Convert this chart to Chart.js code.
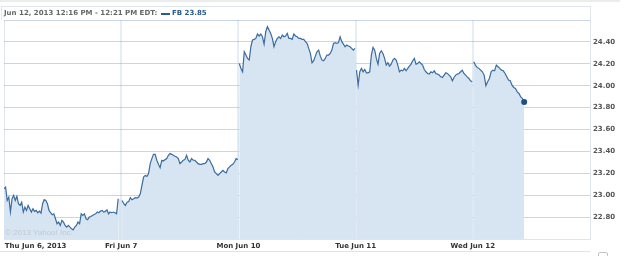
<!DOCTYPE html>
<html>
<head>
<meta charset="utf-8">
<script src="https://cdn.jsdelivr.net/npm/chart.js@4/dist/chart.umd.min.js"></script>
<style>
  body { margin: 0; background: #fff; }
  #wrap { position: relative; width: 625px; height: 256px; overflow: hidden; font-family: "DejaVu Sans", sans-serif; }
  #chart { position: absolute; left: 0; top: 0; }
  .topband { position: absolute; left: 0; top: 0; width: 620px; height: 2px; background: #ececec; }
  .header { position: absolute; left: 1px; top: 6px; width: 588px; height: 13px; border: 1px solid #dfe5ea; border-bottom: none; }
  .header span { position: absolute; top: 2px; font-size: 7px; font-weight: bold; white-space: nowrap; }
  .range { left: 2px; color: #666; }
  .swatch { position: absolute; left: 159px; top: 6px; width: 9px; height: 2px; background: #2a5b90; }
  .quote { left: 170px; color: #2a5b90; }
  .copy { position: absolute; left: 5px; top: 228px; font-family: "Liberation Sans", sans-serif; font-size: 8px; color: #c0cad3; }
  .bottomline { position: absolute; left: 0; top: 251px; width: 590px; height: 1px; background: #e2e2e2; }
  .box { position: absolute; left: 598px; top: 252px; width: 8px; height: 6px; border: 1px solid #c4c4c4; border-radius: 2px; }
</style>
</head>
<body>
<div id="wrap">
  <canvas id="chart" width="625" height="256"></canvas>
  <div class="topband"></div>
  <div class="header">
    <span class="range">Jun 12, 2013 12:16 PM - 12:21 PM EDT:</span>
    <div class="swatch"></div>
    <span class="quote">FB 23.85</span>
  </div>
  <div class="copy">© 2013 Yahoo! Inc.</div>
  <div class="bottomline"></div>
  <div class="box"></div>
</div>
<script>
// FB intraday prices, Jun 6 - Jun 12 2013
const thu = [23.059, 23.074, 22.952, 22.983, 22.846, 22.968, 22.998, 22.952, 22.989, 22.922,
  22.907, 22.937, 22.846, 22.891, 22.861, 22.907, 22.876, 22.846, 22.876, 22.852,
  22.861, 22.840, 22.855, 22.837, 22.922, 22.959, 22.952, 22.922, 22.861, 22.840,
  22.821, 22.830, 22.785, 22.739, 22.754, 22.724, 22.769, 22.754, 22.724, 22.709,
  22.724, 22.709, 22.693, 22.684, 22.709, 22.724, 22.754, 22.739, 22.830, 22.815,
  22.830, 22.785, 22.776, 22.800, 22.806, 22.815, 22.824, 22.830, 22.846, 22.840,
  22.855, 22.861, 22.846, 22.852, 22.867, 22.830, 22.846, 22.840, 22.846, 22.840,
  22.830, 22.968]
const fri = [22.952, 22.922, 22.907, 22.937, 22.943, 22.977, 22.958, 22.968, 22.977, 22.974,
  22.983, 23.013, 23.090, 23.166, 23.181, 23.172, 23.197, 23.288, 23.334, 23.373,
  23.373, 23.319, 23.282, 23.251, 23.319, 23.312, 23.325, 23.334, 23.364, 23.380,
  23.373, 23.364, 23.355, 23.349, 23.334, 23.288, 23.303, 23.319, 23.325, 23.364,
  23.319, 23.303, 23.334, 23.319, 23.319, 23.303, 23.288, 23.282, 23.282, 23.288,
  23.288, 23.303, 23.334, 23.319, 23.288, 23.258, 23.212, 23.197, 23.181, 23.197,
  23.212, 23.227, 23.212, 23.203, 23.242, 23.258, 23.273, 23.282, 23.303, 23.334,
  23.325]
const mon = [24.203, 24.158, 24.127, 24.310, 24.280, 24.249, 24.234, 24.356, 24.417, 24.423,
  24.432, 24.472, 24.454, 24.472, 24.447, 24.380, 24.493, 24.539, 24.508, 24.478,
  24.432, 24.356, 24.402, 24.432, 24.447, 24.432, 24.463, 24.447, 24.454, 24.478,
  24.432, 24.432, 24.423, 24.472, 24.454, 24.447, 24.432, 24.432, 24.423, 24.423,
  24.402, 24.386, 24.341, 24.295, 24.209, 24.228, 24.270, 24.310, 24.325, 24.270,
  24.234, 24.228, 24.249, 24.280, 24.280, 24.295, 24.325, 24.386, 24.393, 24.386,
  24.393, 24.447, 24.402, 24.380, 24.356, 24.371, 24.362, 24.356, 24.341, 24.325,
  24.341]
const tue = [24.142, 24.005, 24.127, 24.158, 24.127, 24.148, 24.118, 24.118, 24.127, 24.280,
  24.350, 24.325, 24.249, 24.197, 24.295, 24.319, 24.295, 24.249, 24.188, 24.210,
  24.179, 24.197, 24.234, 24.249, 24.234, 24.188, 24.127, 24.142, 24.136, 24.158,
  24.136, 24.158, 24.179, 24.197, 24.228, 24.249, 24.197, 24.203, 24.218, 24.203,
  24.188, 24.148, 24.127, 24.112, 24.106, 24.127, 24.118, 24.136, 24.112, 24.106,
  24.097, 24.081, 24.075, 24.097, 24.118, 24.112, 24.097, 24.081, 24.045, 24.075,
  24.097, 24.106, 24.112, 24.127, 24.142, 24.112, 24.097, 24.081, 24.066, 24.045,
  24.036]
const wed = [24.219, 24.188, 24.167, 24.158, 24.142, 24.127, 24.097, 24.000, 24.036, 24.066,
  24.127, 24.142, 24.136, 24.188, 24.173, 24.158, 24.142, 24.136, 24.112, 24.081,
  24.051, 24.045, 24.005, 23.984, 23.975, 23.944, 23.929, 23.898, 23.883, 23.852]

const days = [thu, fri, mon, tue, wed]
const dayLabels = ["Thu Jun 6, 2013", "Fri Jun 7", "Mon Jun 10", "Tue Jun 11", "Wed Jun 12"]
// minutes after 9:30 of the first and last sample of each day
const firstMinute = [0, 3, 3, 3, 3]
const lastMinute = [380, 388, 388, 388, 171]
const yLabels = ["22.80", "23.00", "23.20", "23.40", "23.60", "23.80", "24.00", "24.20", "24.40"]

const SESSION = 390
const points = []
days.forEach((vals, d) => {
  const step = (lastMinute[d] - firstMinute[d]) / (vals.length - 1)
  vals.forEach((v, i) => points.push({ x: d * SESSION + firstMinute[d] + i * step, y: v }))
})

// first label sits inside the plot, the others on the day boundaries
const firstLabelAt = 105
const xTicks = [0, firstLabelAt, SESSION, 2 * SESSION, 3 * SESSION, 4 * SESSION, 5 * SESSION]
function xLabel(v) {
  if (v === firstLabelAt) return dayLabels[0]
  if (v > 0 && v < 5 * SESSION && v % SESSION === 0) return dayLabels[v / SESSION]
  return ""
}

// no line joining one day's close to the next day's open
const sameDay = ctx => Math.floor(ctx.p0.parsed.x / SESSION) === Math.floor(ctx.p1.parsed.x / SESSION)

Chart.defaults.font.family = "DejaVu Sans"

new Chart(document.getElementById("chart"), {
  type: "line",
  data: {
    datasets: [{
      data: points,
      borderColor: "#3b6c9e",
      borderWidth: 1.2,
      backgroundColor: "#d6e5f1",
      fill: "start",
      tension: 0,
      segment: { borderColor: ctx => sameDay(ctx) ? undefined : "rgba(0,0,0,0)" },
      pointRadius: ctx => ctx.dataIndex === points.length - 1 ? 3 : 0,
      pointBackgroundColor: "#1f4f87",
      pointBorderWidth: 0
    }]
  },
  options: {
    responsive: false,
    animation: false,
    layout: { padding: { left: 2, top: 20, right: 0, bottom: 0 } },
    plugins: { legend: { display: false }, tooltip: { enabled: false } },
    scales: {
      x: {
        type: "linear",
        min: 0,
        max: 5 * SESSION,
        z: 1,
        afterBuildTicks: scale => { scale.ticks = xTicks.map(v => ({ value: v })) },
        afterFit: scale => { scale.height = 17 },
        ticks: {
          autoSkip: false,
          maxRotation: 0,
          padding: 3,
          color: "#333",
          font: { size: 7, weight: "bold" },
          callback: v => xLabel(v)
        },
        grid: {
          drawTicks: false,
          color: ctx => {
            const v = ctx.tick ? ctx.tick.value : 0
            if (v === firstLabelAt) return "rgba(0,0,0,0)"
            if (v === 0 || v === 5 * SESSION) return "#dfe5ea"
            return "rgba(228,236,243,0.92)"
          },
          lineWidth: ctx => {
            const v = ctx.tick ? ctx.tick.value : 0
            return (v === 0 || v === 5 * SESSION) ? 1 : 2
          }
        },
        border: { display: true, color: "#dfe5ea" }
      },
      y: {
        position: "right",
        min: 22.6,
        max: 24.6,
        z: 1,
        afterFit: scale => { scale.width = 35 },
        ticks: {
          stepSize: 0.2,
          padding: 3,
          color: "#555",
          font: { size: 7, weight: "bold" },
          callback: v => yLabels.includes(v.toFixed(2)) ? v.toFixed(2) : ""
        },
        grid: { drawTicks: false, lineWidth: 1, color: "rgba(140,163,186,0.45)" },
        border: { display: true, color: "#dfe5ea" }
      }
    }
  }
})
</script>
</body>
</html>
